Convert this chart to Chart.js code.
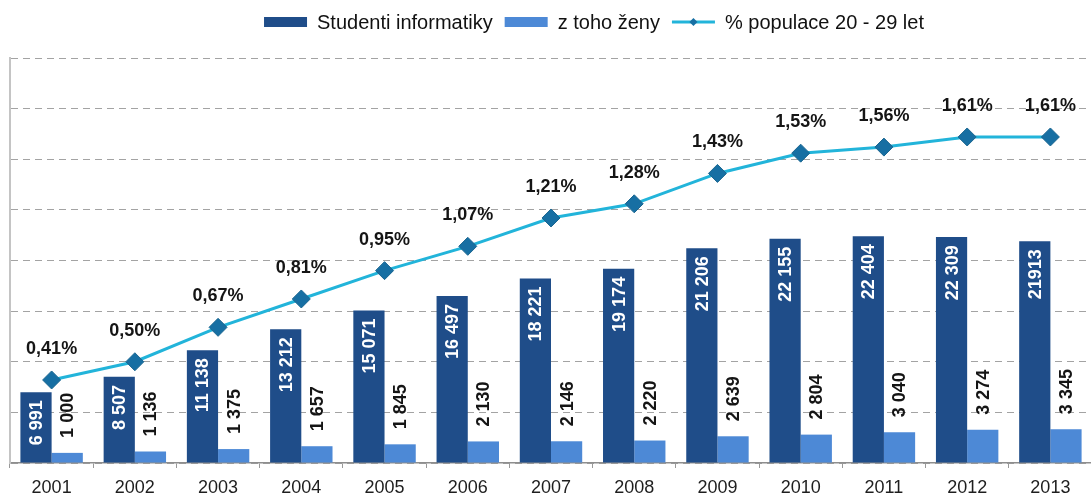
<!DOCTYPE html>
<html lang="cs">
<head>
<meta charset="utf-8">
<title>Studenti informatiky</title>
<script src="https://cdn.jsdelivr.net/npm/chart.js@4.4.1/dist/chart.umd.min.js"></script>
<style>
  html, body { margin: 0; padding: 0; background: #fff; overflow: hidden; }
  #wrap { width: 1102px; height: 499px; }
</style>
</head>
<body>
<div id="wrap"><canvas id="graf" width="1102" height="499"></canvas></div>
<script>
// --- data ---
const roky = ['2001', '2002', '2003', '2004', '2005', '2006', '2007', '2008', '2009', '2010', '2011', '2012', '2013'];
const studenti = [6991, 8507, 11138, 13212, 15071, 16497, 18221, 19174, 21206, 22155, 22404, 22309, 21913];
const zeny = [1000, 1136, 1375, 1657, 1845, 2130, 2146, 2220, 2639, 2804, 3040, 3274, 3345];
const podil = [0.41, 0.50, 0.67, 0.81, 0.95, 1.07, 1.21, 1.28, 1.43, 1.53, 1.56, 1.61, 1.61];
const rozsahPocet = [0, 40000, 5000];   // min, max, krok mřížky
const rozsahPodil = [0, 2];            // osa procent (skrytá)
const bezMezery = ['2013'];            // rok, kde je počet studentů psán bez mezery

const barvy = {
  studenti: '#1f4d89',
  zeny: '#4d89d6',
  cara: '#22b4da',
  bod: '#176fa3',
  mrizka: '#a3a3a3'
};

function cislo(v) {
  return String(v).replace(/\B(?=(\d{3})+(?!\d))/g, ' ');
}
function procento(v) {
  return v.toFixed(2).replace('.', ',') + '%';
}

// popisky hodnot u sloupců a bodů
const popisky = {
  id: 'popisky',
  afterDatasetsDraw(chart) {
    const ctx = chart.ctx;
    ctx.save();
    chart.data.datasets.forEach((ds, di) => {
      const meta = chart.getDatasetMeta(di);
      meta.data.forEach((el, i) => {
        const v = ds.data[i];
        if (ds.type === 'line') {
          ctx.font = 'bold 18px "Liberation Sans", Arial, sans-serif';
          ctx.fillStyle = '#151515';
          ctx.textAlign = 'center';
          ctx.textBaseline = 'middle';
          ctx.fillText(procento(v), el.x, el.y - 31);
        } else if (di === 0) {
          const text = bezMezery.includes(roky[i]) ? String(v) : cislo(v);
          ctx.save();
          ctx.translate(el.x + 1, el.y + 8);
          ctx.rotate(-Math.PI / 2);
          ctx.font = 'bold 18px "Liberation Sans", Arial, sans-serif';
          ctx.fillStyle = '#ffffff';
          ctx.textAlign = 'right';
          ctx.textBaseline = 'middle';
          ctx.fillText(text, 0, 0);
          ctx.restore();
        } else {
          ctx.save();
          ctx.translate(el.x + 1, el.y - 15);
          ctx.rotate(-Math.PI / 2);
          ctx.font = 'bold 18px "Liberation Sans", Arial, sans-serif';
          ctx.fillStyle = '#151515';
          ctx.textAlign = 'left';
          ctx.textBaseline = 'middle';
          ctx.fillText(cislo(v), 0, 0);
          ctx.restore();
        }
      });
    });
    ctx.restore();
  }
};

// legenda nahoře nad grafem
const legenda = {
  id: 'legenda',
  afterDraw(chart, args, o) {
    const ctx = chart.ctx;
    ctx.save();
    ctx.font = o.font;
    const polozky = chart.data.datasets.map(ds => ({ ds, w: ctx.measureText(ds.label).width }));
    const celkem = polozky.reduce((s, p) => s + o.boxW + o.mezera + p.w, 0) + o.rozestup * (polozky.length - 1);
    let x = o.stredX - celkem / 2;
    const y = o.y;
    polozky.forEach(p => {
      if (p.ds.type === 'line') {
        ctx.strokeStyle = p.ds.borderColor;
        ctx.lineWidth = 3;
        ctx.beginPath();
        ctx.moveTo(x, y);
        ctx.lineTo(x + o.boxW, y);
        ctx.stroke();
        const cx = x + o.boxW / 2, r = 4;
        ctx.fillStyle = p.ds.pointBackgroundColor;
        ctx.beginPath();
        ctx.moveTo(cx, y - r);
        ctx.lineTo(cx + r, y);
        ctx.lineTo(cx, y + r);
        ctx.lineTo(cx - r, y);
        ctx.closePath();
        ctx.fill();
      } else {
        ctx.fillStyle = p.ds.backgroundColor;
        ctx.fillRect(x, y - 5, o.boxW, 10);
      }
      x += o.boxW + o.mezera;
      ctx.fillStyle = '#111';
      ctx.textAlign = 'left';
      ctx.textBaseline = 'middle';
      ctx.fillText(p.ds.label, x, y + 1);
      x += p.w + o.rozestup;
    });
    ctx.restore();
  }
};

new Chart(document.getElementById('graf'), {
  type: 'bar',
  data: {
    labels: roky,
    datasets: [
      {
        label: 'Studenti informatiky',
        data: studenti,
        backgroundColor: barvy.studenti,
        yAxisID: 'y',
        order: 1
      },
      {
        label: 'z toho ženy',
        data: zeny,
        backgroundColor: barvy.zeny,
        yAxisID: 'y',
        order: 1
      },
      {
        type: 'line',
        label: '% populace 20 - 29 let',
        data: podil,
        borderColor: barvy.cara,
        borderWidth: 3,
        pointStyle: 'rectRot',
        pointRadius: 9,
        pointBackgroundColor: barvy.bod,
        pointBorderColor: '#1a6690',
        pointBorderWidth: 1,
        tension: 0,
        yAxisID: 'y1',
        order: 0
      }
    ]
  },
  options: {
    responsive: false,
    devicePixelRatio: 1,
    animation: false,
    datasets: {
      bar: { categoryPercentage: 0.75, barPercentage: 1.0 }
    },
    layout: { padding: { left: 10, right: 0, top: 58, bottom: 0 } },
    plugins: {
      legend: { display: false },
      tooltip: { enabled: false },
      legenda: {
        font: '20px "Liberation Sans", Arial, sans-serif',
        stredX: 594,
        y: 22,
        boxW: 43,
        mezera: 10,
        rozestup: 12
      }
    },
    scales: {
      x: {
        afterFit(scale) { scale.height = 36; },
        grid: { display: true, drawOnChartArea: false, drawTicks: true, tickLength: 5, color: '#999', offset: true },
        border: { display: true, color: '#8e8e8e', width: 1.5 },
        ticks: {
          color: '#1e1e1e',
          padding: 9,
          font: { family: '"Liberation Sans", Arial, sans-serif', size: 18, lineHeight: 1.2 }
        }
      },
      y: {
        position: 'left',
        min: rozsahPocet[0],
        max: rozsahPocet[1],
        ticks: { display: false, stepSize: rozsahPocet[2] },
        grid: { color: barvy.mrizka, lineWidth: 1, drawTicks: false },
        border: { display: true, color: '#c4c4c4', width: 2, dash: [7, 5] }
      },
      y1: {
        display: false,
        min: rozsahPodil[0],
        max: rozsahPodil[1]
      }
    }
  },
  plugins: [popisky, legenda]
});
</script>
</body>
</html>
